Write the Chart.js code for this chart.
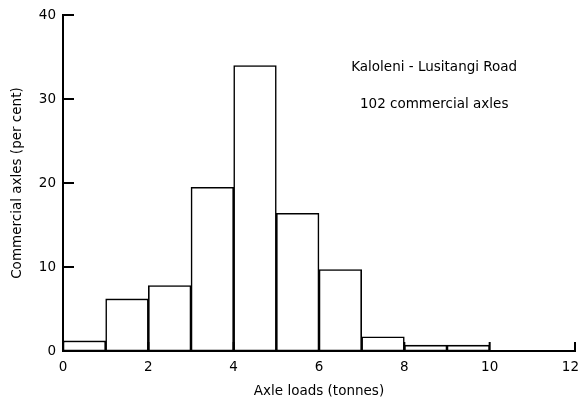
<!DOCTYPE html>
<html>
<head>
<meta charset="utf-8">
<script src="https://cdn.jsdelivr.net/npm/chart.js@4.4.1/dist/chart.umd.min.js"></script>
<style>
  html, body { margin: 0; padding: 0; background: #fff; }
  #wrap { width: 580px; height: 400px; }
</style>
</head>
<body>
<div id="wrap"><canvas id="myChart" width="580" height="400"></canvas></div>
<script>
// axle load bins (tonnes), lower edge of each 1-tonne bin
const binStarts = [0, 1, 2, 3, 4, 5, 6, 7, 8, 9];
// share of commercial axles in each bin (per cent)
const percents = [1.2, 6.2, 7.8, 19.5, 34, 16.4, 9.7, 1.7, 0.7, 0.7];
const xTicks = [0, 2, 4, 6, 8, 10, 12];
const yTicks = [0, 10, 20, 30, 40];
const noteLines = ['Kaloleni - Lusitangi Road', '102 commercial axles'];

const FONT = '"DejaVu Sans", sans-serif';
const X_MAX = 12;

// small inward tick marks, like the printed figure
const tickMarks = {
  id: 'tickMarks',
  afterDatasetsDraw(chart) {
    const { ctx } = chart;
    const x = chart.scales.x;
    const y = chart.scales.y;
    ctx.save();
    ctx.strokeStyle = '#000';
    ctx.lineWidth = 2;
    ctx.beginPath();
    yTicks.forEach((v) => {
      if (v === 0) return;
      const py = y.getPixelForValue(v);
      ctx.moveTo(x.left, py);
      ctx.lineTo(x.left + 11, py);
    });
    xTicks.forEach((v) => {
      if (v === 0) return;
      const px = x.getPixelForValue(v);
      ctx.moveTo(px, y.bottom);
      ctx.lineTo(px, y.bottom - 9);
    });
    ctx.stroke();

    ctx.fillStyle = '#000';
    ctx.font = '13.5px ' + FONT;
    ctx.textAlign = 'center';
    ctx.textBaseline = 'middle';
    const cx = x.getPixelForValue(8.7);
    ctx.fillText(noteLines[0], cx, y.getPixelForValue(33.8));
    ctx.fillText(noteLines[1], cx, y.getPixelForValue(29.4));
    // last x label sits against the page edge
    ctx.textAlign = 'right';
    ctx.fillText(String(X_MAX), chart.width - 1, y.bottom + 16);
    ctx.restore();
  },
};

const myChart = new Chart(document.getElementById('myChart'), {
  type: 'bar',
  data: {
    datasets: [
      {
        data: binStarts.map((b, i) => ({ x: b + 0.5, y: percents[i] })),
        backgroundColor: '#fff',
        borderColor: '#000',
        borderWidth: 1.6,
        borderSkipped: false,
        barPercentage: 1,
        categoryPercentage: 1,
      },
    ],
  },
  plugins: [tickMarks],
  options: {
    responsive: false,
    animation: false,
    layout: { padding: { top: 11, right: 5, left: 6, bottom: 0 } },
    plugins: {
      legend: { display: false },
      tooltip: { enabled: false },
    },
    scales: {
      x: {
        type: 'linear',
        min: 0,
        max: X_MAX,
        offset: false,
        afterBuildTicks: (scale) => { scale.ticks = xTicks.map((v) => ({ value: v })); },
        afterFit: (scale) => {
          scale.height = 49;
          scale.paddingLeft = 0;
          scale.paddingRight = 0;
        },
        grid: { display: false, drawTicks: false },
        border: { display: true, color: '#000', width: 2 },
        ticks: {
          color: '#000',
          padding: 8,
          maxRotation: 0,
          font: { family: FONT, size: 13.5 },
          callback: (v) => (v === X_MAX ? '' : String(v)),
        },
        title: {
          display: true,
          text: 'Axle loads (tonnes)',
          color: '#000',
          padding: { top: 6, bottom: 0 },
          font: { family: FONT, size: 13.5 },
        },
      },
      y: {
        min: 0,
        max: 40,
        afterBuildTicks: (scale) => { scale.ticks = yTicks.map((v) => ({ value: v })); },
        afterFit: (scale) => { scale.width = 57; },
        grid: { display: false, drawTicks: false },
        border: { display: true, color: '#000', width: 2 },
        ticks: {
          color: '#000',
          padding: 7,
          font: { family: FONT, size: 13.5 },
        },
        title: {
          display: true,
          text: 'Commercial axles (per cent)',
          color: '#000',
          padding: { top: 3, bottom: 6 },
          font: { family: FONT, size: 13.5 },
        },
      },
    },
  },
});
</script>
</body>
</html>
